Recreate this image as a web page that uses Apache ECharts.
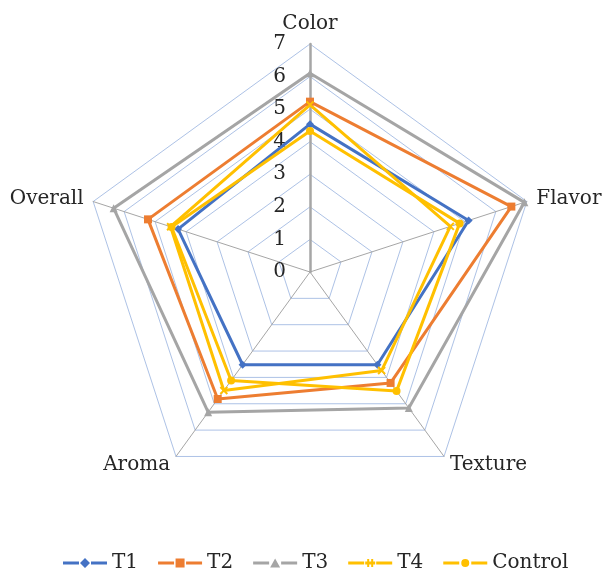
<!DOCTYPE html>
<html>
<head>
<meta charset="utf-8">
<script src="https://cdn.jsdelivr.net/npm/echarts@6/dist/echarts.min.js"></script>
<style>
  html, body { margin: 0; padding: 0; background: #fff; }
  #chart { width: 602px; height: 580px; }
</style>
</head>
<body>
<div id="chart"></div>
<script>
// attributes (clockwise from top)
const attributes = ['Color', 'Flavor', 'Texture', 'Aroma', 'Overall']
const scaleTicks = ['0', '1', '2', '3', '4', '5', '6', '7']

const t1 = [4.54, 5.12, 3.52, 3.52, 4.26]
const t2 = [5.23, 6.5, 4.21, 4.82, 5.23]
const t3 = [6.1, 6.92, 5.16, 5.32, 6.34]
const t4 = [5.13, 4.53, 3.74, 4.5, 4.5]
const control = [4.33, 4.83, 4.52, 4.12, 4.47]

const seriesNames = ['T1', 'T2', 'T3', 'T4', 'Control']
const seriesColors = ['#4472C4', '#ED7D31', '#A5A5A5', '#FFC000', '#FFC000']
const seriesSymbols = ['diamond', 'rect', 'triangle', 'path://M0,0L2,2M2,0L0,2', 'circle']
const seriesValues = [t1, t2, t3, t4, control]

// echarts radar runs counter-clockwise, so keep Color first and flip the rest
const order = [0, 4, 3, 2, 1]
const flip = arr => order.map(i => arr[i])

// legend icons: line with the marker in the middle (44 x 10 box)
const bar = 'M0,3.5H16V6.5H0ZM28,3.5H44V6.5H28Z'
const legendIcons = [
  'path://' + bar + 'M22,0L27,5L22,10L17,5Z',
  'path://' + bar + 'M17.5,0.5H26.5V9.5H17.5Z',
  'path://' + bar + 'M22,0.5L27,9.5H17Z',
  'path://' + bar + 'M17,3.5H27V6.5H17ZM19,1H21V9H19ZM23,1H25V9H23Z',
  'path://' + bar + 'M22,1A4,4 0 1 1 21.99,1Z'
]

const font = 'DejaVu Serif'
const textColor = '#262626'

const myChart = echarts.init(document.getElementById('chart'))

const option = {
  backgroundColor: '#fff',
  textStyle: { fontFamily: font },
  radar: {
    center: [310, 272],
    radius: 228,
    startAngle: 90,
    splitNumber: 7,
    shape: 'polygon',
    indicator: flip(attributes).map(name => ({ name: name, min: 0, max: 7 })),
    axisName: {
      color: textColor,
      fontFamily: font,
      fontSize: 20
    },
    nameGap: 10,
    splitArea: { show: false },
    splitLine: {
      lineStyle: { color: '#ADC2E6', width: 1 }
    },
    axisLine: {
      lineStyle: { color: '#A6A6A6', width: 1 }
    },
    axisTick: { show: false },
    axisLabel: { show: false }
  },
  // value scale along the Color spoke
  grid: {
    left: 310,
    width: 1,
    top: 44,
    height: 228
  },
  xAxis: { type: 'value', show: false },
  yAxis: {
    type: 'value',
    min: 0,
    max: 7,
    interval: 1,
    axisLine: { show: true, lineStyle: { color: '#A6A6A6', width: 2.5 } },
    axisTick: { show: false },
    splitLine: { show: false },
    axisLabel: {
      margin: 24,
      color: textColor,
      fontFamily: font,
      fontSize: 20,
      formatter: v => scaleTicks[v]
    }
  },
  legend: {
    bottom: 2,
    left: 58,
    itemWidth: 44,
    itemHeight: 10,
    itemGap: 20,
    textStyle: { color: textColor, fontFamily: font, fontSize: 20 },
    data: seriesNames.map((name, i) => ({
      name: name,
      icon: legendIcons[i],
      itemStyle: { color: seriesColors[i], borderWidth: 0 }
    }))
  },
  series: [{
    type: 'radar',
    z: 3,
    data: seriesNames.map((name, i) => ({
      name: name,
      value: flip(seriesValues[i]),
      symbol: seriesSymbols[i],
      symbolSize: i === 3 ? 7 : 8,
      itemStyle: {
        color: seriesColors[i],
        borderColor: seriesColors[i],
        borderWidth: i === 3 ? 2 : 0
      },
      lineStyle: { color: seriesColors[i], width: 3 }
    }))
  }]
}

myChart.setOption(option)
</script>
</body>
</html>
